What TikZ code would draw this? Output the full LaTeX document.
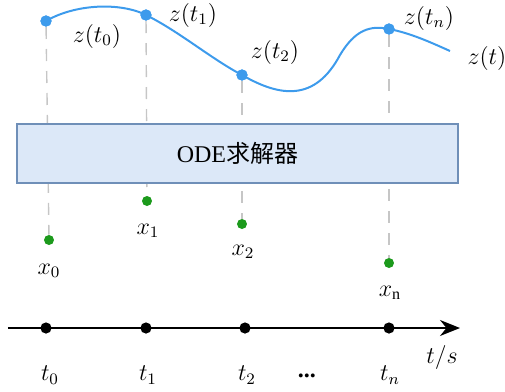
\documentclass[tikz,border=0pt]{standalone}
\usepackage{fontspec}
\setmainfont{Liberation Serif}
\newfontfamily\cjk{Noto Sans CJK SC}
\definecolor{myblue}{HTML}{3D9BEC}
\definecolor{mygreen}{HTML}{1C9A1C}
\definecolor{boxfill}{HTML}{DCE8F8}
\definecolor{boxdraw}{HTML}{6F8FB8}
\usetikzlibrary{arrows.meta}
\tikzset{
	zpoint/.style={
			circle,
			fill=myblue,
			minimum size=5.6pt,
			inner sep=0pt
		},
	xpoint/.style={
			zpoint,
			fill=mygreen,
			minimum size=5pt
		},
	tpoint/.style={
			zpoint,
			fill=black
		},
	guideline/.style={
			draw=gray!45,
			line width=0.7pt,
			dash pattern=on 6pt off 5pt
		},
	odebox/.style={
			draw=boxdraw,
			fill=boxfill,
			line width=0.8pt,
			minimum width=220.5pt,
			minimum height=29.5pt,
			inner sep=0pt
		},
	labelnode/.style={
			inner sep=0pt,
			font=\fontsize{12}{14}\selectfont
		}
}

\begin{document}
\begin{tikzpicture}[x=0.5pt, y=-0.5pt]
\useasboundingbox (0,0) rectangle (505,392);

\node[zpoint] (z0) at (46,21) {};
\node[zpoint] (z1) at (146,15) {};
\node[zpoint] (z2) at (242,75) {};
\node[zpoint] (zn) at (389,29) {};
\coordinate (zend) at (450,51);

% curve z(t)
\draw[myblue, line width=1pt] (z0.center)
  .. controls (75,4) and (120,2) .. (z1.center)
  .. controls (180,32) and (210,58) .. (z2.center)
  .. controls (280,97) and (315,102) .. (340,55)
  .. controls (355,30) and (370,25) .. (zn.center)
  .. controls (410,33) and (430,42) .. (zend);
\node[zpoint] at (z0) {};
\node[zpoint] at (z1) {};
\node[zpoint] at (z2) {};
\node[zpoint] at (zn) {};

\node[xpoint] (x0) at (49,240) {};
\node[xpoint] (x1) at (147,201) {};
\node[xpoint] (x2) at (242,224) {};
\node[xpoint] (xn) at (389,263) {};

\draw[guideline] (z0) -- (x0);
\draw[guideline] (z1) -- (x1);
\draw[guideline] (z2) -- (x2);
\draw[guideline] (zn) -- (xn);

\node[odebox, labelnode] (ode) at (237.5,153.5) {ODE{\cjk 求解器}};

\node[labelnode] (lz0) at (97,36) {$z(t_0)$};
\node[labelnode] (lz1) at (193,15) {$z(t_1)$};
\node[labelnode] (lz2) at (275,52) {$z(t_2)$};
\node[labelnode] (lzn) at (429,18) {$z(t_n)$};
\node[labelnode] (lz) at (487,58) {$z(t)$};

\node[labelnode] (lx0) at (49,271) {$x_0$};
\node[labelnode] (lx1) at (148,231) {$x_1$};
\node[labelnode] (lx2) at (243,252) {$x_2$};
\node[labelnode] (lxn) at (390,293) {$x_{\mathrm{n}}$};

% time axis
\coordinate (start) at (8,328);
\coordinate (end) at (460,328);
\draw[line width=1pt, -{Stealth[length=10pt, width=8pt]}] (start) -- (end);

\node[tpoint] (t0) at (46,328) {};
\node[tpoint] (t1) at (146,328) {};
\node[tpoint] (t2) at (245,328) {};
\node[tpoint] (tn) at (389,328) {};

\node[labelnode] (lt0) at (50,375) {$t_0$};
\node[labelnode] (lt1) at (148,375) {$t_1$};
\node[labelnode] (lt2) at (247,375) {$t_2$};
\node[labelnode] (ldots) at (307,376) {\textbf{...}};
\node[labelnode] (ltn) at (390,375) {$t_n$};
\node[labelnode] (lts) at (442,357) {$t/s$};
\end{tikzpicture}
\end{document}
